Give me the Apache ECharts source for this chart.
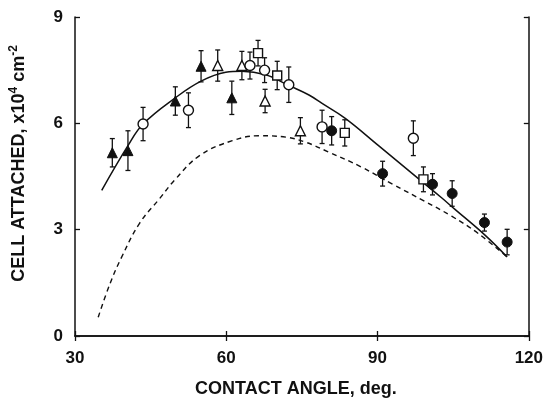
<!DOCTYPE html>
<html>
<head>
<meta charset="utf-8">
<script src="https://cdn.jsdelivr.net/npm/echarts@6/dist/echarts.min.js"></script>
<style>html,body{margin:0;padding:0;background:#fff}#c{width:546px;height:403px}</style>
</head>
<body>
<div id="c"></div>
<script>
// x ticks / y ticks
const xTicks = [30, 60, 90, 120];
const yTicks = [0, 3, 6, 9];
// [contact angle, cells attached, error]
const filledTriangles = [[37.4,5.17,0.4],[40.5,5.23,0.56],[49.9,6.63,0.4],[55.0,7.61,0.44],[61.1,6.72,0.47]];
const openTriangles = [[58.3,7.63,0.44],[63.1,7.63,0.4],[67.7,6.63,0.33],[74.7,5.79,0.37]];
const openCircles = [[43.5,5.98,0.47],[52.5,6.37,0.49],[64.7,7.63,0.38],[67.6,7.50,0.35],[72.4,7.09,0.5],[79.0,5.90,0.47],[97.1,5.58,0.49]];
const openSquares = [[66.3,7.98,0.36],[70.1,7.35,0.4],[83.5,5.73,0.37],[99.1,4.42,0.35]];
const filledCircles = [[80.9,5.79,0.4],[91.0,4.58,0.35],[100.9,4.28,0.3],[104.8,4.02,0.36],[111.2,3.20,0.24],[115.7,2.65,0.36]];
// fitted curves
const solidCurve = [[35.3,4.11],[40.5,5.37],[43.5,5.98],[49.9,6.72],[55.0,7.19],[59.9,7.44],[63.1,7.47],[67.8,7.37],[72.4,7.07],[76.4,6.80],[79.0,6.56],[83.6,6.14],[90.2,5.37],[98.1,4.44],[102.7,3.90],[105.3,3.58],[111.2,2.86],[115.7,2.23]];
const dashedCurve = [[34.6,0.53],[36.9,1.46],[39.2,2.21],[42.8,3.18],[46.8,3.88],[49.7,4.39],[54.7,5.09],[61.2,5.51],[66.5,5.65],[71.8,5.61],[75.7,5.47],[80.3,5.19],[86.9,4.76],[93.0,4.28],[99.1,3.82],[104.7,3.38],[109.9,2.90],[115.7,2.23]];

const ink = '#111';
const font = '"Liberation Sans", Arial, sans-serif';

function errSeries(data){
  return {
    type:'custom', z:2, silent:true,
    data: data.map(d=>[d[0], d[1]-d[2], d[1]+d[2]]),
    renderItem: function(params, api){
      const lo = api.coord([api.value(0), api.value(1)]);
      const hi = api.coord([api.value(0), api.value(2)]);
      const w = 2.5;
      const st = {stroke: ink, lineWidth: 1.3};
      return {type:'group', children:[
        {type:'line', shape:{x1:lo[0],y1:lo[1],x2:hi[0],y2:hi[1]}, style:st},
        {type:'line', shape:{x1:lo[0]-w,y1:lo[1],x2:lo[0]+w,y2:lo[1]}, style:st},
        {type:'line', shape:{x1:hi[0]-w,y1:hi[1],x2:hi[0]+w,y2:hi[1]}, style:st}
      ]};
    }
  };
}
function pts(data, symbol, size, filled){
  return {
    type:'scatter', z:5, symbol:symbol, symbolSize:size, silent:true,
    data: data.map(d=>[d[0], d[1]]),
    itemStyle: filled ? {color: ink, borderColor: ink, borderWidth: 1, opacity:1} : {color:'#fff', borderColor: ink, borderWidth: 1.4, opacity:1}
  };
}

const chart = echarts.init(document.getElementById('c'), null, {renderer:'canvas'});
const axisBase = {
  axisLine:{show:true, lineStyle:{color:ink, width:1.5}},
  axisTick:{show:true, inside:true, length:5, lineStyle:{color:ink, width:1.3}},
  splitLine:{show:false}
};
chart.setOption({
  animation:false,
  backgroundColor:'#fff',
  grid:{left:75, right:15, top:17, bottom:64},
  xAxis:[
    Object.assign({}, axisBase, {type:'value', position:'bottom', min:xTicks[0], max:xTicks[xTicks.length-1], interval:xTicks[1]-xTicks[0],
      axisLabel:{color:ink, fontSize:17, fontWeight:'bold', fontFamily:font, margin:14},
      name:'CONTACT ANGLE, deg.', nameLocation:'middle', nameGap:44,
      nameTextStyle:{color:ink, fontSize:18, fontWeight:'bold', fontFamily:font, padding:[0,12,0,0]}}),
    Object.assign({}, axisBase, {type:'value', position:'top', min:xTicks[0], max:xTicks[xTicks.length-1], interval:xTicks[1]-xTicks[0],
      axisLabel:{show:false}})
  ],
  yAxis:[
    Object.assign({}, axisBase, {type:'value', position:'left', min:yTicks[0], max:yTicks[yTicks.length-1], interval:yTicks[1]-yTicks[0],
      axisLabel:{color:ink, fontSize:17, fontWeight:'bold', fontFamily:font, margin:12},
      name:'{a|CELL ATTACHED, x10}{s|4}{a| cm}{s|-2}', nameLocation:'middle', nameGap:45, nameRotate:90,
      nameTextStyle:{padding:[0,0,0,26], rich:{
        a:{color:ink, fontSize:18, fontWeight:'bold', fontFamily:font},
        s:{color:ink, fontSize:12, fontWeight:'bold', fontFamily:font, verticalAlign:'top', padding:[0,0,10,0]}
      }}}),
    Object.assign({}, axisBase, {type:'value', position:'right', min:yTicks[0], max:yTicks[yTicks.length-1], interval:yTicks[1]-yTicks[0],
      axisLabel:{show:false}})
  ],
  series:[
    {type:'line', data:solidCurve, smooth:0.4, showSymbol:false, silent:true, z:1,
      lineStyle:{color:ink, width:1.5}},
    {type:'line', data:dashedCurve, smooth:0.4, showSymbol:false, silent:true, z:1,
      lineStyle:{color:ink, width:1.4, type:[5,4]}},
    errSeries(filledTriangles), errSeries(openTriangles), errSeries(openCircles), errSeries(openSquares), errSeries(filledCircles),
    pts(filledTriangles,'triangle',10,true),
    pts(openTriangles,'triangle',10,false),
    pts(openCircles,'circle',10,false),
    pts(openSquares,'rect',9,false),
    pts(filledCircles,'circle',10,true)
  ]
});
</script>
</body>
</html>
